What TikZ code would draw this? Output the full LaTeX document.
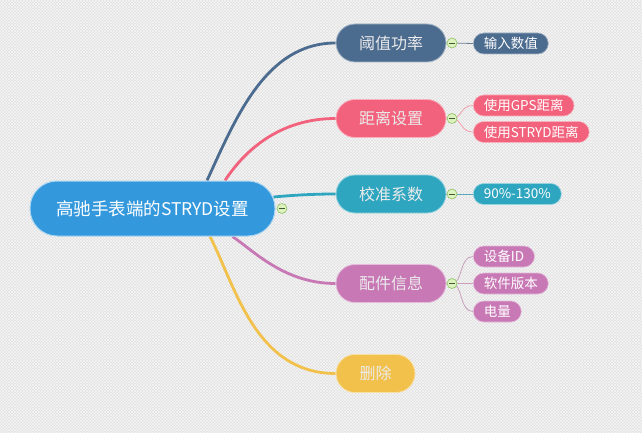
\documentclass[tikz,border=0pt]{standalone}
\usepackage{fontspec}
\setmainfont{Noto Sans CJK SC}
\usetikzlibrary{backgrounds,patterns,calc}
\definecolor{bgc}{HTML}{E0E0E0}
\definecolor{rootc}{HTML}{3398DC}
\definecolor{c1}{HTML}{4B6B8F}
\definecolor{c2}{HTML}{F2627C}
\definecolor{c3}{HTML}{2EA6BF}
\definecolor{c4}{HTML}{C878B5}
\definecolor{c5}{HTML}{F2C14C}
\definecolor{c1l}{HTML}{6D7F92}
\definecolor{c2l}{HTML}{F0A0AB}
\definecolor{c3l}{HTML}{57A8BD}
\definecolor{c4l}{HTML}{C9A0BD}
\definecolor{foldd}{HTML}{8CC063}
\definecolor{foldf}{HTML}{DDF2BE}
\definecolor{foldm}{HTML}{3D5A2A}
\begin{document}
\begin{tikzpicture}[x=1pt,y=-1pt,
  rootbox/.style={draw=white!60!rootc, line width=1pt, fill=rootc, rounded corners=27pt, minimum width=245pt, minimum height=55pt, text=white, font=\fontsize{17.5}{19}\selectfont, inner sep=0pt},
  topic/.style={draw=white!50!#1, line width=0.8pt, fill=#1, rounded corners=19pt, minimum height=38pt, minimum width=110pt, text=white!92!black, font=\fontsize{16}{17}\selectfont, inner sep=0pt},
  leaf/.style={draw=white!50!#1, line width=0.6pt, fill=#1, rounded corners=10.5pt, minimum height=21pt, inner xsep=10.5pt, inner ysep=0pt, text=white, font=\fontsize{13.5}{15}\selectfont, anchor=west},
  fold/.style={circle, draw=foldd, fill=foldf, line width=0.6pt, minimum size=10pt, inner sep=0pt, path picture={\draw[foldm,line width=0.8pt] ($(path picture bounding box.center)+(-3,0)$) -- ($(path picture bounding box.center)+(3,0)$);}},
  br/.style={draw=#1, line width=2.8pt},
  tw/.style={draw=#1, line width=0.8pt}
]
\useasboundingbox (0,0) rectangle (642,433);
% nodes
\node[rootbox] (root) at (152.5,208.5) {高驰手表端的STRYD设置};
\node[topic=c1] (t1) at (391,43) {阈值功率};
\node[topic=c2] (t2) at (391,118.5) {距离设置};
\node[topic=c3] (t3) at (391,194) {校准系数};
\node[topic=c4] (t4) at (391,283.5) {配件信息};
\node[topic=c5, minimum width=79pt] (t5) at (375.5,373.5) {删除};
\node[fold] (f0) at (282,208.5) {};
\node[fold] (f1) at (452,43) {};
\node[fold] (f2) at (452,118.5) {};
\node[fold] (f3) at (452,194) {};
\node[fold] (f4) at (452,283.5) {};
\node[leaf=c1] (l11) at (473,43.5) {输入数值};
\node[leaf=c2] (l21) at (473,105.5) {使用GPS距离};
\node[leaf=c2] (l22) at (473,132) {使用STRYD距离};
\node[leaf=c3] (l31) at (473,194) {90\%-130\%};
\node[leaf=c4] (l41) at (473,256.5) {设备ID};
\node[leaf=c4] (l42) at (473,283.5) {软件版本};
\node[leaf=c4] (l43) at (473,311.5) {电量};
% background and connectors
\begin{scope}[on background layer]
\fill[bgc] (0,0) rectangle (642,433);
\fill[pattern=crosshatch, pattern color=white!97!black] (0,0) rectangle (642,433);
\draw[br=c1] ($(root.north)+(54.5,0)$) .. controls (235,120) and (265,43) .. (t1.west);
\draw[br=c2] ($(root.north)+(72.5,0)$) .. controls (245,150) and (280,118.5) .. (t2.west);
\draw[br=c3] ($(root.east)+(-2,-11.5)$) .. controls (295,195) and (315,194) .. (t3.west);
\draw[br=c4] ($(root.south)+(80,0)$) .. controls (255,252) and (285,283.5) .. (t4.west);
\draw[br=c5] ($(root.south)+(57.5,0)$) .. controls (235,285) and (255,373.5) .. (t5.west);
\draw[tw=c1l] (t1.east) -- (f1) -- (l11.west);
\draw[tw=c2l] (t2.east) -- (f2);
\draw[tw=c2l] (f2.center) .. controls (462,118.5) and (460,105.5) .. (l21.west);
\draw[tw=c2l] (f2.center) .. controls (462,118.5) and (460,132) .. (l22.west);
\draw[tw=c3l] (t3.east) -- (f3) -- (l31.west);
\draw[tw=c4l] (t4.east) -- (f4) -- (l42.west);
\draw[tw=c4l] (f4.center) .. controls (463,283.5) and (459,256.5) .. (l41.west);
\draw[tw=c4l] (f4.center) .. controls (463,283.5) and (459,311.5) .. (l43.west);
\end{scope}
\end{tikzpicture}
\end{document}
